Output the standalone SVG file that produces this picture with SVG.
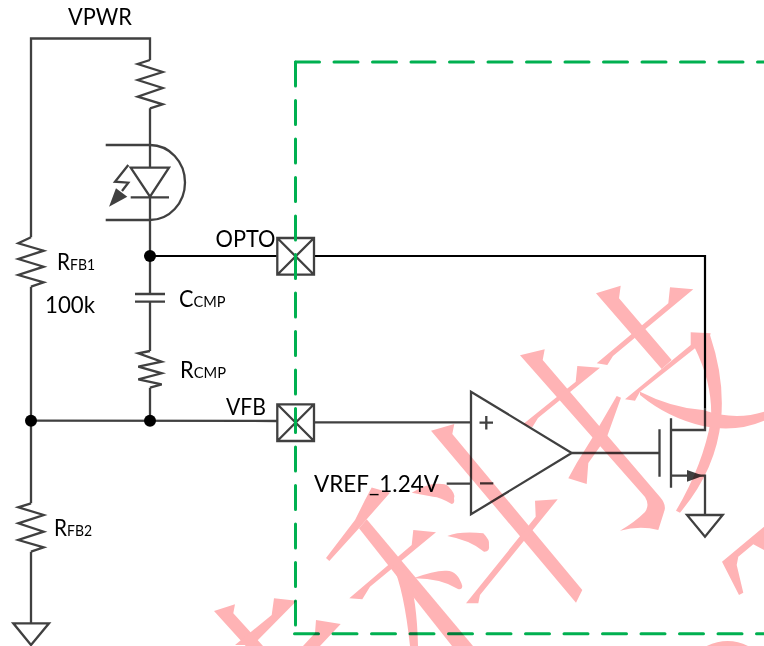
<svg xmlns="http://www.w3.org/2000/svg" width="764" height="646" viewBox="0 0 764 646">
<style>
.w{fill:none;stroke:#404040;stroke-width:2.3;stroke-linejoin:miter}
.k{fill:none;stroke:#000;stroke-width:2.2}
.f{fill:#404040;stroke:none}
.d{fill:#000;stroke:none}
.g{fill:none;stroke:#00b050;stroke-width:3;stroke-dasharray:24 14.5;stroke-linecap:round}
.t{font-family:"Lato","Carlito","Liberation Sans",sans-serif;font-size:23px;fill:#000}
.s{font-size:15.5px}
#watermark{mix-blend-mode:multiply}
#watermark path{fill:#ffb3b5;stroke:none}
</style>
<rect width="764" height="646" fill="#fff"/>
<g id="connectors">
<path class="w" d="M31,237.3V38.5H150V60"/>
<path class="w" d="M31,286.7V503.3M31,551.7V623.3"/>
<path class="w" d="M150,108.3V167.7M150,196.7V294M150,301.7V351M150,387.7V421"/>
<path class="w" d="M31,420.7L277,421M314,422.3H471"/>
<path class="k" d="M150,256H277.5M314,256H705V408"/>
<path class="w" d="M705,408V430H671M446.7,483.7H471M571.7,453H659.5M671,475.7H705V515"/>
</g>
<g id="r-top"><path class="w" d="M150,60L137.7,64L162.7,72L137.7,80L162.7,88L137.7,96.7L162.7,104.3L150,108.3"/></g>
<g id="optocoupler">
<path class="w" d="M105.7,145H150A35,37.5 0 0 1 150,220H105.7"/>
<path class="w" d="M130.7,167.7H169L150,196.7ZM130.7,197.3H169"/>
<path class="w" d="M128.3,165L115,181.7L128.3,182.7L122,191"/>
<path class="f" d="M109,206.7L116,188.3L127.3,196.7Z"/>
</g>
<g id="rfb1"><path class="w" d="M31,237.3L18.3,243.3L43.7,250.7L18.3,259L43.7,266.7L18.3,275L43.7,282.3L31,286.7"/></g>
<g id="rfb2"><path class="w" d="M31,503.3L18.3,507.3L43.7,515L18.3,523.3L43.7,531.7L18.3,540L43.7,547.3L31,551.7"/></g>
<g id="gnd-left"><path class="w" d="M13.3,623.3H49L31,645Z"/></g>
<g id="ccmp"><path class="w" d="M135,294H165M135,301.7H165"/></g>
<g id="rcmp"><path class="w" d="M150,351L138.3,353.3L161.7,361.7L138.3,366.7L161.7,373.3L138.3,379.3L161.7,384.3L150,387.7"/></g>
<g id="junctions">
<circle class="d" cx="150" cy="256" r="6"/>
<circle class="d" cx="31" cy="420.7" r="6"/>
<circle class="d" cx="150" cy="420.7" r="6"/>
</g>
<g id="pin-opto"><path class="w" d="M277.3,238H314V274.7H277.3ZM277.3,238L314,274.7M314,238L277.3,274.7"/></g>
<g id="pin-vfb"><path class="w" d="M277.3,404.3H314V441H277.3ZM277.3,404.3L314,441M314,404.3L277.3,441"/></g>
<g id="boundary">
<path class="g" d="M295.5,62H764"/>
<path class="g" d="M295.5,62V627"/>
<path class="g" d="M294.5,633.7H764"/>
</g>
<g id="opamp">
<path class="w" d="M471,391.7V514.3L571.7,453Z"/>
<path class="w" d="M479.5,422.7H493M486.3,416V429.4M480,483.4H493.3"/>
</g>
<g id="mosfet">
<path class="w" d="M659.5,429.3V476.7M671,418.3V487.7"/>
<path class="f" d="M687,470V481.7L703.3,475.7Z"/>
</g>
<g id="gnd-right"><path class="w" d="M687,515H722.7L705,536.7Z"/></g>
<g id="labels">
<text class="t" x="68" y="25" textLength="64" lengthAdjust="spacingAndGlyphs">VPWR</text>
<text class="t" x="215.5" y="246.5" textLength="60" lengthAdjust="spacingAndGlyphs">OPTO</text>
<text class="t" x="226" y="415" textLength="40" lengthAdjust="spacingAndGlyphs">VFB</text>
<text class="t" x="314" y="491.5" textLength="125" lengthAdjust="spacingAndGlyphs">VREF_1.24V</text>
<text class="t" x="45" y="313.3" textLength="50" lengthAdjust="spacingAndGlyphs">100k</text>
<text class="t" x="57" y="270" textLength="38" lengthAdjust="spacingAndGlyphs">R<tspan class="s">FB1</tspan></text>
<text class="t" x="54" y="536" textLength="38" lengthAdjust="spacingAndGlyphs">R<tspan class="s">FB2</tspan></text>
<text class="t" x="179" y="306.5" textLength="46.5" lengthAdjust="spacingAndGlyphs">C<tspan class="s">CMP</tspan></text>
<text class="t" x="180" y="377.5" textLength="46" lengthAdjust="spacingAndGlyphs">R<tspan class="s">CMP</tspan></text>
</g>
<g id="watermark">
<path d="M596,293.3L620.7,285.7L619,298.3L671.7,360L661.7,369Z"/>
<path d="M693.3,289.3L670,287.3L668.3,303.3L596.7,363.3L607.3,365L613,356Z"/>
<path d="M710.7,333.3L690.7,332.3L690.7,345L625,399.3L635,400.7L640,391.7L695,348.3L705,352Z"/>
<path d="M695,348.3L710,335Q725,380 721,420Q716,470 680,512.7L676,510.7Q703,465 711,420Q713,385 695,348.3Z"/>
<path d="M640,391.7Q672,408 703,410Q735,421 764,411.7V420.7Q735,433 703,426Q668,418 640,395Z"/>
<path d="M520,355.3L544.7,349.3L542.7,360L660,497Q667,505 664,512L658.3,530Q640,525 620,530.7Q635,522 645,512Q650,505 645,497Z"/>
<path d="M600,367.7L577.3,366L575.7,381.7L523.3,424L532.3,427.3L538,418Z"/>
<path d="M616.7,396L621,397.7L607,436.7L588.3,463L586.7,484L568.3,478.3L576.7,463L593,436.7Z"/>
<path d="M431,430.7L454.3,424L452.3,434L582.3,590L576,602.7Z"/>
<path d="M557.7,499.3L535,500.7L535.7,516.7L466,603.3L478.3,603.3L480,595Z"/>
<path d="M411.7,492.7Q425,485 433.3,484Q445,483 448,486Q456,494 454,498.3Q455,504 451.7,504Q440,497 433,496.7Z"/>
<path d="M447.3,536Q460,531 483.3,533.3Q490,540 489,545Q490,552 484,551.7Q470,540 447.3,536Z"/>
<path d="M413.3,578.3Q435,570 446.7,570.7Q458,571 462.3,586Q462,590 458,589Q440,578 413.3,578.3Z"/>
<path d="M371.7,487.5L390,492.7L366.7,519.3L359,528.3L329.3,561L326,558L355,520L365,500Z"/>
<path d="M359,528.3L366.7,519.3L473,646H452Z"/>
<path d="M436,532.3L413.3,530L411.7,545L349.3,598.3L362.3,599.3L370,586.7Z"/>
<path d="M392.7,565Q404,590 410,646H418Q417,600 408,573Z"/>
<path d="M214,611L235,604.3L233.3,613.3L263,646H245.7Z"/>
<path d="M296.7,600.7L274,598.3L271.7,615L235,645H253Z"/>
<path d="M340.7,624L316,620L315,633L303,646H320Z"/>
<path d="M722,561.7L764,526.7V550L753.3,544.3L738.3,556.7L736.7,565L743.3,592.7L739,595Z"/>
<path d="M706.7,646Q728,636 748,646Z"/>
</g>
</svg>
